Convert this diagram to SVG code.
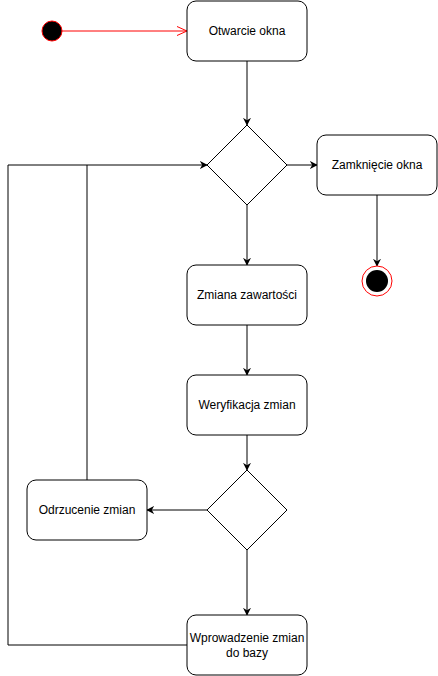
<svg xmlns="http://www.w3.org/2000/svg" width="438" height="676" viewBox="0 0 438 676">
<style>
.box{fill:#fff;stroke:#000;stroke-width:1}
.t{font-family:"Liberation Sans",Arial,sans-serif;font-size:12px;fill:#000;text-anchor:middle}
.e{fill:none;stroke:#000;stroke-width:1}
</style>
<defs>
<marker id="a" viewBox="0 0 10 10" refX="9" refY="5" markerWidth="8" markerHeight="8" markerUnits="userSpaceOnUse" orient="auto"><path d="M0,0 L10,5 L0,10 L3,5 Z" fill="#000"/></marker>
<marker id="o" viewBox="0 0 10 10" refX="10" refY="5" markerWidth="10" markerHeight="10" markerUnits="userSpaceOnUse" orient="auto"><path d="M0,0.5 L10,5 L0,9.5" fill="none" stroke="#f00" stroke-width="1"/></marker>
</defs>
<rect width="438" height="676" fill="#fff"/>
<g id="edges">
<path d="M62,31 L187,31" fill="none" stroke="#f00" marker-end="url(#o)"/>
<path class="e" d="M247,61 L247,125" marker-end="url(#a)"/>
<path class="e" d="M287,165 L317,165" marker-end="url(#a)"/>
<path class="e" d="M377,195 L377,266" marker-end="url(#a)"/>
<path class="e" d="M247,205 L247,265" marker-end="url(#a)"/>
<path class="e" d="M247,325 L247,375" marker-end="url(#a)"/>
<path class="e" d="M247,435 L247,470" marker-end="url(#a)"/>
<path class="e" d="M207,510 L147,510" marker-end="url(#a)"/>
<path class="e" d="M247,550 L247,615" marker-end="url(#a)"/>
<path class="e" d="M187,645 L8,645 L8,165 L207,165" marker-end="url(#a)"/>
<path class="e" d="M87,480 L87,165"/>
</g>
<g id="start"><circle cx="52" cy="31" r="10" fill="#000" stroke="#f00"/></g>
<g id="otwarcie"><rect class="box" x="187" y="1" width="120" height="60" rx="9"/><text class="t" x="247" y="35">Otwarcie okna</text></g>
<g id="decision1"><path class="box" d="M247,125 L287,165 L247,205 L207,165 Z"/></g>
<g id="zamkniecie"><rect class="box" x="317" y="135" width="120" height="60" rx="9"/><text class="t" x="377" y="169">Zamknięcie okna</text></g>
<g id="end"><circle cx="377" cy="281" r="15" fill="#fff" stroke="#f00"/><circle cx="377" cy="281" r="11" fill="#000"/></g>
<g id="zmiana"><rect class="box" x="187" y="265" width="120" height="60" rx="9"/><text class="t" x="247" y="299">Zmiana zawartości</text></g>
<g id="weryfikacja"><rect class="box" x="187" y="375" width="120" height="60" rx="9"/><text class="t" x="247" y="409">Weryfikacja zmian</text></g>
<g id="decision2"><path class="box" d="M247,470 L287,510 L247,550 L207,510 Z"/></g>
<g id="odrzucenie"><rect class="box" x="27" y="480" width="120" height="60" rx="9"/><text class="t" x="87" y="514">Odrzucenie zmian</text></g>
<g id="wprowadzenie"><rect class="box" x="187" y="615" width="120" height="60" rx="9"/><text class="t" x="247" y="642">Wprowadzenie zmian</text><text class="t" x="247" y="657">do bazy</text></g>
</svg>
